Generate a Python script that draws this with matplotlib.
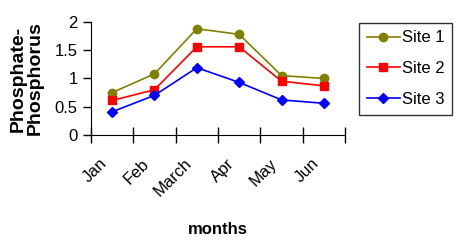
import numpy as np
import matplotlib
matplotlib.use("Agg")
from matplotlib import pyplot as plt

months = ["Jan", "Feb", "March", "Apr", "May", "Jun"]
site1 = [0.75, 1.08, 1.88, 1.78, 1.05, 1.00]
site2 = [0.61, 0.80, 1.56, 1.56, 0.95, 0.87]
site3 = [0.41, 0.70, 1.19, 0.93, 0.62, 0.56]

plt.rcParams['font.family'] = ['Liberation Sans', 'DejaVu Sans']

fig = plt.figure(figsize=(4.59, 2.41), dpi=100)
ax = fig.add_axes([0.198, 0.44, 0.554, 0.469])

x = np.arange(len(months))
ax.plot(x, site1, color='#808000', marker='o', markersize=6, lw=1.2, label='Site 1')
ax.plot(x, site2, color='#ff0000', marker='s', markersize=6, lw=1.2, label='Site 2')
ax.plot(x, site3, color='#0000ff', marker='D', markersize=5, lw=1.2, label='Site 3')

ax.set_xlim(-0.5, len(months) - 0.5)
ax.set_ylim(0, 2)
ax.set_yticks([0, 0.5, 1, 1.5, 2])
ax.set_yticklabels(["0", "0.5", "1", "1.5", "2"])

# category boundaries get the tick marks, rotated names sit a bit left of centre
ax.set_xticks(np.arange(len(months) + 1) - 0.5)
ax.set_xticklabels([])
ax.set_xticks(x - 0.3, minor=True)
ax.set_xticklabels(months, minor=True, rotation=45, ha='right', rotation_mode='anchor')
ax.tick_params(axis='x', which='major', direction='inout', length=12, width=1)
ax.tick_params(axis='x', which='minor', length=0, pad=15, labelsize=12)
ax.tick_params(axis='y', direction='out', length=6, width=1, labelsize=12)

for s in ['top', 'right']:
    ax.spines[s].set_visible(False)

ax.set_ylabel("Phosphate-\nPhosphorus", fontsize=14, fontweight='bold',
              labelpad=8, linespacing=1.0)
ax.set_xlabel("months", fontsize=12, fontweight='bold', labelpad=16)

leg = fig.legend(loc='upper left', bbox_to_anchor=(359 / 459, 1 - 23 / 241),
                 bbox_transform=fig.transFigure, fontsize=12,
                 frameon=True, fancybox=False, edgecolor='black', handlelength=2.0,
                 borderpad=0.45, labelspacing=0.95, handletextpad=0.15,
                 borderaxespad=0.0)
leg.get_frame().set_linewidth(1)

fig.savefig("out.png", dpi=100)
